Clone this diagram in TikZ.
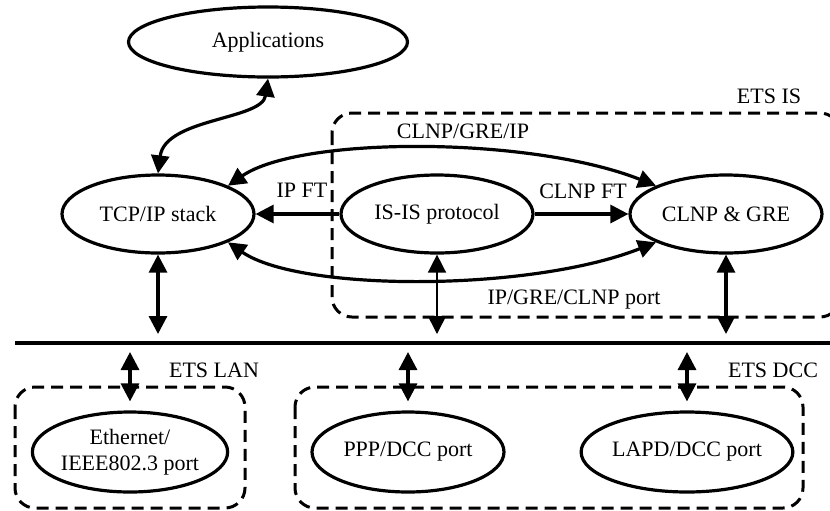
\documentclass[tikz,border=0pt]{standalone}
\usepackage{fontspec}
\setmainfont{Liberation Serif}
\usetikzlibrary{shapes.geometric,arrows.meta}

\begin{document}
\begin{tikzpicture}[x=0.5pt,y=-0.5pt,
	proc/.style={ellipse,draw,line width=1.6pt,inner sep=0pt,minimum width=96pt,minimum height=39pt,align=center},
	link/.style={line width=1.6pt,{Triangle[length=9pt,width=9pt]}-{Triangle[length=9pt,width=9pt]}},
	fwd/.style={line width=1.6pt,-{Triangle[length=9pt,width=9pt]}},
	etsbox/.style={line width=1.5pt,dash pattern=on 6pt off 3.5pt,rounded corners=10pt},
	lbl/.style={inner sep=0pt},
	font=\fontsize{11}{13}\selectfont]

	\useasboundingbox (0,0) rectangle (830,510);

	% dashed areas
	\draw[etsbox] (332,113) rectangle (840,317);
	\draw[etsbox] (15,387) rectangle (245,508);
	\draw[etsbox] (295,387) rectangle (803,508);

	\node[proc,minimum width=139.5pt,minimum height=35pt] (apps) at (268,42) {Applications};
	\node[proc] (tcp) at (158,214) {TCP/IP stack};
	\node[proc] (isis) at (437,214) {IS-IS protocol};
	\node[proc] (clnp) at (726,214) {CLNP \& GRE};
	\node[proc,minimum height=40pt] (eth) at (130,452) {Ethernet/\\IEEE802.3 port};
	\node[proc,minimum height=40pt] (ppp) at (408,452) {PPP/DCC port};
	\node[proc,minimum height=40pt] (lapd) at (687,452) {LAPD/DCC port};

	\node[lbl] (ipft) at (302,190) {IP FT};
	\node[lbl] (clnpft) at (583,191) {CLNP FT};
	\node[lbl] (tunnel) at (463,131) {CLNP/GRE/IP};
	\node[lbl] (portlbl) at (574,300) {IP/GRE/CLNP port};
	\node[lbl] (etsis) at (769,96) {ETS IS};
	\node[lbl] (etslan) at (214,370) {ETS LAN};
	\node[lbl] (etsdcc) at (773,370) {ETS DCC};

	% bus
	\coordinate (busL) at (15,343);
	\coordinate (busR) at (830,343);
	\coordinate (busup) at (0,334);
	\coordinate (busdn) at (0,352);
	\draw[line width=2pt] (busL) -- (busR);

	\draw[link] (apps.south) .. controls (262,120) and (165,118) .. (tcp.north);
	\draw[link] (tcp.22) .. controls (300,136) and (530,136) .. (clnp.158);
	\draw[link] (tcp.-22) .. controls (300,292) and (530,292) .. (clnp.202);
	\draw[fwd] (isis) -- (tcp);
	\draw[fwd] (isis) -- (clnp);

	\draw[link] (tcp.south) -- (tcp.south |- busup);
	\draw[link,line width=0.8pt] (isis.south) -- (isis.south |- busup);
	\draw[link] (clnp.south) -- (clnp.south |- busup);
	\draw[link,shorten >=4.5pt] (eth.north |- busdn) -- (eth.north);
	\draw[link,shorten >=4.5pt] (ppp.north |- busdn) -- (ppp.north);
	\draw[link,shorten >=4.5pt] (lapd.north |- busdn) -- (lapd.north);

\end{tikzpicture}
\end{document}
